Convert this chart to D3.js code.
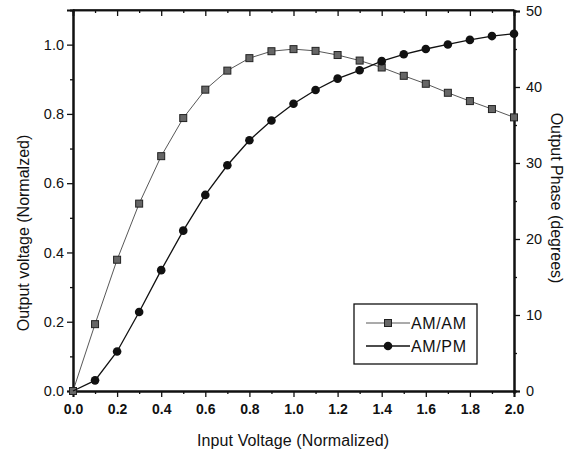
<!DOCTYPE html>
<html>
<head>
    <title>AM/AM and AM/PM</title>
    <script src="https://d3js.org/d3.v7.min.js"></script>
    <style>
        body { margin: 0; background: #fff; }
        svg { font-family: "Liberation Sans", Arial, sans-serif; }
        .tick text { fill: #111; }
    </style>
</head>
<body>
    <svg width="575" height="455"></svg>

    <script>
        // Input voltage samples
        const inputVoltage = [0.0, 0.1, 0.2, 0.3, 0.4, 0.5, 0.6, 0.7, 0.8, 0.9, 1.0,
                              1.1, 1.2, 1.3, 1.4, 1.5, 1.6, 1.7, 1.8, 1.9, 2.0];
        // AM/AM: output voltage (left axis)
        const amam = [0.0, 0.193, 0.379, 0.541, 0.678, 0.788, 0.870, 0.925, 0.961, 0.981, 0.987,
                      0.982, 0.970, 0.954, 0.934, 0.910, 0.887, 0.861, 0.837, 0.814, 0.790];
        // AM/PM: output phase in degrees (right axis)
        const ampm = [0.0, 1.4, 5.2, 10.4, 15.9, 21.1, 25.8, 29.7, 33.0, 35.6, 37.8,
                      39.6, 41.1, 42.2, 43.4, 44.3, 45.0, 45.6, 46.2, 46.7, 47.0];

        const xTicks = [0, 0.2, 0.4, 0.6, 0.8, 1.0, 1.2, 1.4, 1.6, 1.8, 2.0];
        const xMinor = [0.1, 0.3, 0.5, 0.7, 0.9, 1.1, 1.3, 1.5, 1.7, 1.9];
        const yTicks = [0, 0.2, 0.4, 0.6, 0.8, 1.0];
        const yMinor = [0.1, 0.3, 0.5, 0.7, 0.9];
        const phaseTicks = [0, 10, 20, 30, 40, 50];
        const phaseMinor = [5, 15, 25, 35, 45];

        const svg = d3.select("svg");
        const plotL = 73, plotR = 514, plotT = 10, plotB = 391;

        const x = d3.scaleLinear().domain([0, 2]).range([plotL, plotR]);
        const y = d3.scaleLinear().domain([0, 1.1]).range([plotB, plotT]);
        const yp = d3.scaleLinear().domain([0, 50]).range([plotB, plotT + 1]);

        // frame: top line
        svg.append("line")
            .attr("x1", plotL).attr("x2", plotR)
            .attr("y1", plotT).attr("y2", plotT)
            .attr("stroke", "#111").attr("stroke-width", 1.6);

        // bottom axis
        const gx = svg.append("g").attr("transform", `translate(0,${plotB})`)
            .call(d3.axisBottom(x).tickValues(xTicks).tickFormat(d3.format(".1f"))
                .tickSize(6).tickPadding(7));
        gx.append("g").call(d3.axisBottom(x).tickValues(xMinor).tickSize(3).tickFormat(""));

        // top axis (ticks pointing in, no labels)
        const gt = svg.append("g").attr("transform", `translate(0,${plotT})`)
            .call(d3.axisTop(x).tickValues(xTicks).tickSize(-6).tickFormat(""));
        gt.append("g").call(d3.axisTop(x).tickValues(xMinor).tickSize(-3).tickFormat(""));

        // left axis
        const gy = svg.append("g").attr("transform", `translate(${plotL},0)`)
            .call(d3.axisLeft(y).tickValues(yTicks).tickFormat(d3.format(".1f"))
                .tickSize(6).tickPadding(3));
        gy.append("g").call(d3.axisLeft(y).tickValues(yMinor).tickSize(3).tickFormat(""));

        // right axis
        const gr = svg.append("g").attr("transform", `translate(${plotR},0)`)
            .call(d3.axisRight(yp).tickValues(phaseTicks).tickSize(6).tickPadding(6));
        gr.append("g").call(d3.axisRight(yp).tickValues(phaseMinor).tickSize(3).tickFormat(""));

        [gx, gt, gy, gr].forEach(g => {
            g.selectAll(".domain").attr("stroke", "#111").attr("stroke-width", 2);
            g.selectAll(".tick line").attr("stroke", "#111").attr("stroke-width", 1.3);
            g.selectAll(".tick text").attr("font-size", 14.5)
                .attr("font-family", "'Liberation Sans', Arial, sans-serif");
        });
        gx.selectAll(".tick text").attr("font-size", 14).attr("font-weight", "bold");
        gt.selectAll(".domain").attr("stroke-width", 1.6);

        // axis titles
        svg.append("text")
            .attr("transform", "translate(29,233) rotate(-90)")
            .attr("text-anchor", "middle").attr("font-size", 16).attr("fill", "#111")
            .text("Output voltage (Normalzed)");
        svg.append("text")
            .attr("transform", "translate(551,198) rotate(90)")
            .attr("text-anchor", "middle").attr("font-size", 16).attr("fill", "#111")
            .text("Output Phase (degrees)");
        svg.append("text")
            .attr("x", 293).attr("y", 446)
            .attr("text-anchor", "middle").attr("font-size", 16).attr("fill", "#111")
            .attr("textLength", 192)
            .text("Input Voltage (Normalized)");

        // AM/AM series
        const amData = inputVoltage.map((v, i) => [v, amam[i]]);
        svg.append("path")
            .datum(amData)
            .attr("fill", "none").attr("stroke", "#444").attr("stroke-width", 0.9)
            .attr("d", d3.line().x(d => x(d[0])).y(d => y(d[1])));
        svg.selectAll(".sq").data(amData).enter().append("rect")
            .attr("class", "sq")
            .attr("x", d => x(d[0]) - 3.5).attr("y", d => y(d[1]) - 3.5)
            .attr("width", 7).attr("height", 7)
            .attr("fill", "#666").attr("stroke", "#222").attr("stroke-width", 1);

        // AM/PM series
        const pmData = inputVoltage.map((v, i) => [v, ampm[i]]);
        svg.append("path")
            .datum(pmData)
            .attr("fill", "none").attr("stroke", "#111").attr("stroke-width", 1.3)
            .attr("d", d3.line().x(d => x(d[0])).y(d => yp(d[1])));
        svg.selectAll(".ci").data(pmData.slice(1)).enter().append("circle")
            .attr("class", "ci")
            .attr("cx", d => x(d[0])).attr("cy", d => yp(d[1]))
            .attr("r", 4.3).attr("fill", "#111");

        // legend
        const lg = svg.append("g").attr("transform", "translate(354,304)");
        lg.append("rect").attr("width", 123).attr("height", 60)
            .attr("fill", "#fff").attr("stroke", "#111").attr("stroke-width", 1.3);
        const items = [
            { name: "AM/AM", marker: "square", yy: 19 },
            { name: "AM/PM", marker: "circle", yy: 42 }
        ];
        items.forEach(it => {
            lg.append("line").attr("x1", 12).attr("x2", 56)
                .attr("y1", it.yy).attr("y2", it.yy)
                .attr("stroke", it.marker === "square" ? "#444" : "#111")
                .attr("stroke-width", it.marker === "square" ? 0.9 : 1.3);
            if (it.marker === "square") {
                lg.append("rect").attr("x", 30.5).attr("y", it.yy - 3.5)
                    .attr("width", 7).attr("height", 7)
                    .attr("fill", "#666").attr("stroke", "#222");
            } else {
                lg.append("circle").attr("cx", 34).attr("cy", it.yy).attr("r", 4.3).attr("fill", "#111");
            }
            lg.append("text").attr("x", 57).attr("y", it.yy + 6)
                .attr("font-size", 16).attr("fill", "#111")
                .attr("textLength", 55)
                .text(it.name);
        });
    </script>
</body>
</html>
